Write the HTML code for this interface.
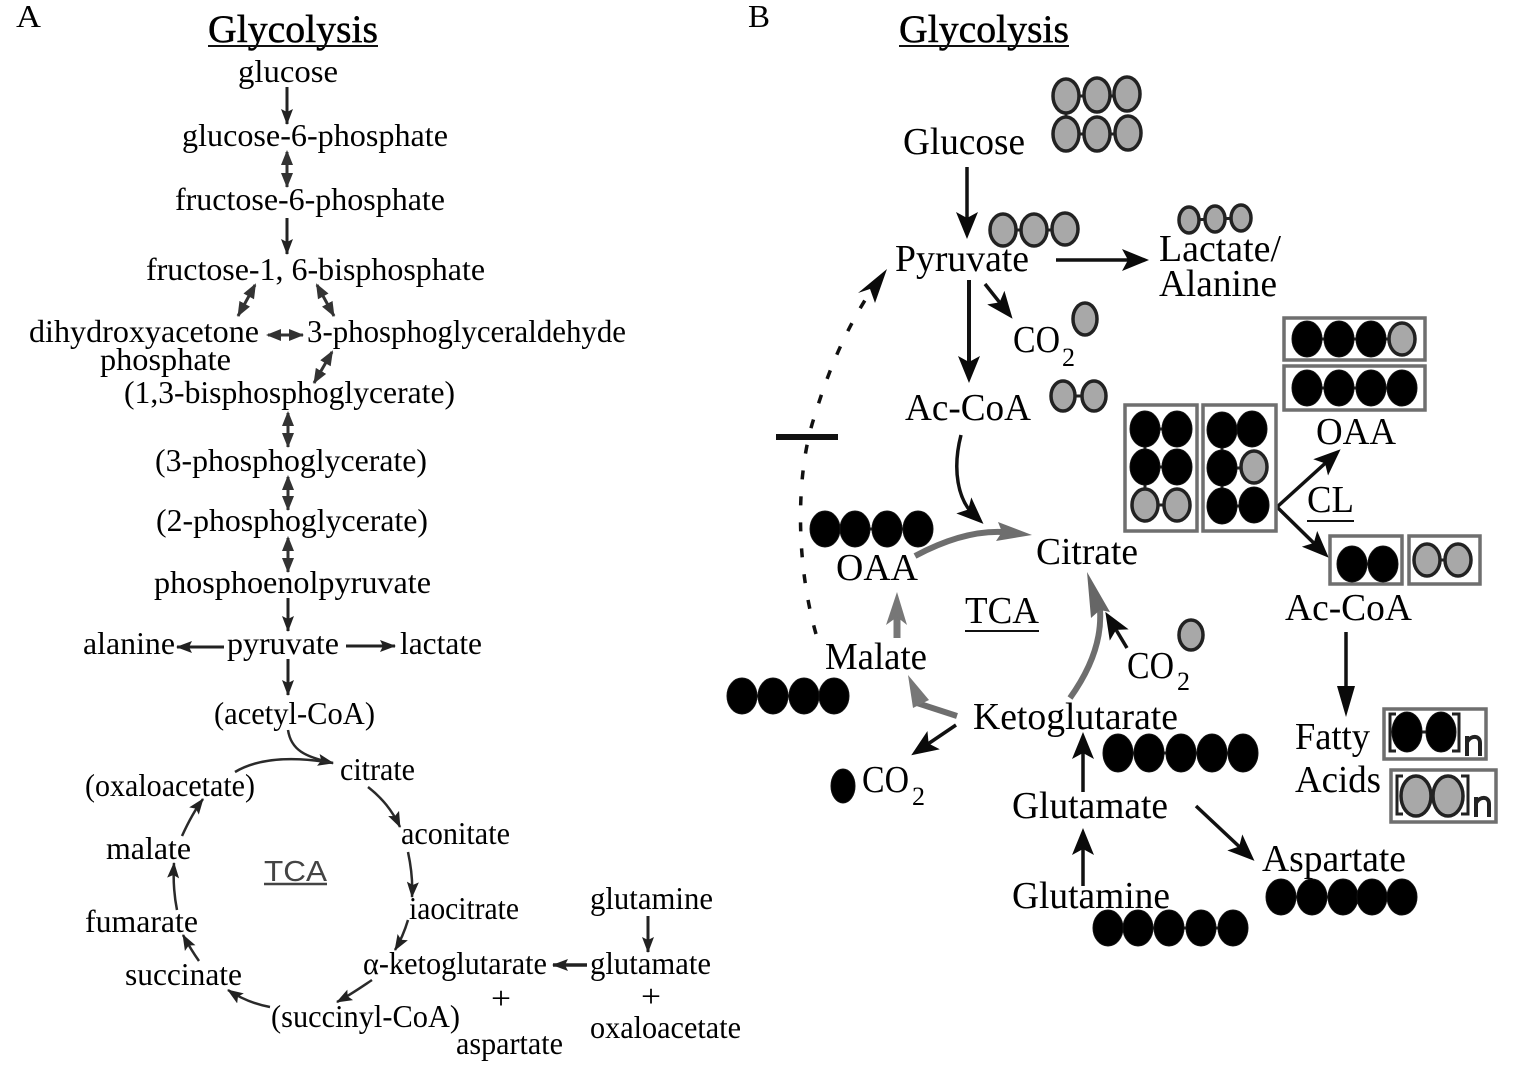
<!DOCTYPE html>
<html>
<head>
<meta charset="utf-8">
<style>
html,body{margin:0;padding:0;background:#fff;width:1519px;height:1075px;overflow:hidden}
svg{display:block}
text{font-family:"Liberation Serif",serif;fill:#000}
.a{font-size:32px;transform:translateY(1px)}
.b{font-size:38px}
.h{font-size:39px;stroke:#000;stroke-width:.5;transform:translateY(1px)}
.s{font-size:26px}
.l{stroke:#222;stroke-width:3;fill:none}
.d{stroke:#333;stroke-width:3;fill:none}
.t{stroke:#2a2a2a;stroke-width:2.5;fill:none}
.q{stroke:#111;stroke-width:3.5;fill:none}
.g{stroke:#6e6e6e;stroke-width:6;fill:none}
.k{fill:#000;stroke:#111;stroke-width:1}
.y{fill:#a8a8a8;stroke:#222;stroke-width:3.5}
.box{fill:none;stroke:#6f6f6f;stroke-width:3.5}
.link{stroke:#222;stroke-width:3;fill:none}
</style>
</head>
<body>
<svg width="1519" height="1075" viewBox="0 0 1519 1075" xmlns="http://www.w3.org/2000/svg">
<defs>
<marker id="m" markerUnits="userSpaceOnUse" markerWidth="18" markerHeight="14" refX="15" refY="7" orient="auto"><path d="M0 1L16 7L0 13L3 7Z" fill="#222"/></marker>
<marker id="e" markerUnits="userSpaceOnUse" markerWidth="16" markerHeight="14" refX="14" refY="7" orient="auto"><path d="M0 1L15 7L0 13Z" fill="#333"/></marker>
<marker id="es" markerUnits="userSpaceOnUse" markerWidth="16" markerHeight="14" refX="2" refY="7" orient="auto"><path d="M15 1L0 7L15 13Z" fill="#333"/></marker>
<marker id="mb" markerUnits="userSpaceOnUse" markerWidth="28" markerHeight="22" refX="14" refY="11" orient="auto"><path d="M0 0L27 11L0 22L6 11Z" fill="#0a0a0a"/></marker>
</defs>

<!-- Panel A text -->
<text class="a" x="16" y="26" textLength="25" lengthAdjust="spacingAndGlyphs">A</text>
<text class="h" x="208" y="41" textLength="170" lengthAdjust="spacingAndGlyphs">Glycolysis</text>
<line x1="208" y1="46" x2="378" y2="46" stroke="#111" stroke-width="2"/>
<text class="a" x="238" y="81" textLength="100" lengthAdjust="spacingAndGlyphs">glucose</text>
<text class="a" x="182" y="145" textLength="266" lengthAdjust="spacingAndGlyphs">glucose-6-phosphate</text>
<text class="a" x="175" y="209" textLength="270" lengthAdjust="spacingAndGlyphs">fructose-6-phosphate</text>
<text class="a" x="146" y="279" textLength="339" lengthAdjust="spacingAndGlyphs">fructose-1, 6-bisphosphate</text>
<text class="a" x="29" y="341" textLength="230" lengthAdjust="spacingAndGlyphs">dihydroxyacetone</text>
<text class="a" x="307" y="341" textLength="319" lengthAdjust="spacingAndGlyphs">3-phosphoglyceraldehyde</text>
<text class="a" x="100" y="369" textLength="131" lengthAdjust="spacingAndGlyphs">phosphate</text>
<text class="a" x="124" y="402" textLength="331" lengthAdjust="spacingAndGlyphs">(1,3-bisphosphoglycerate)</text>
<text class="a" x="155" y="470" textLength="272" lengthAdjust="spacingAndGlyphs">(3-phosphoglycerate)</text>
<text class="a" x="156" y="530" textLength="272" lengthAdjust="spacingAndGlyphs">(2-phosphoglycerate)</text>
<text class="a" x="154" y="592" textLength="277" lengthAdjust="spacingAndGlyphs">phosphoenolpyruvate</text>
<text class="a" x="83" y="653" textLength="92" lengthAdjust="spacingAndGlyphs">alanine</text>
<text class="a" x="227" y="653" textLength="112" lengthAdjust="spacingAndGlyphs">pyruvate</text>
<text class="a" x="400" y="653" textLength="82" lengthAdjust="spacingAndGlyphs">lactate</text>
<text class="a" x="214" y="723" textLength="161" lengthAdjust="spacingAndGlyphs">(acetyl-CoA)</text>
<text class="a" x="340" y="779" textLength="75" lengthAdjust="spacingAndGlyphs">citrate</text>
<text class="a" x="85" y="795" textLength="170" lengthAdjust="spacingAndGlyphs">(oxaloacetate)</text>
<text class="a" x="401" y="843" textLength="109" lengthAdjust="spacingAndGlyphs">aconitate</text>
<text class="a" x="106" y="858" textLength="85" lengthAdjust="spacingAndGlyphs">malate</text>
<text x="264" y="881" font-size="29" style="font-family:'Liberation Sans',sans-serif;fill:#444" textLength="63" lengthAdjust="spacingAndGlyphs">TCA</text>
<line x1="264" y1="884" x2="327" y2="884" stroke="#444" stroke-width="2.5"/>
<text class="a" x="409" y="918" textLength="110" lengthAdjust="spacingAndGlyphs">iaocitrate</text>
<text class="a" x="85" y="931" textLength="113" lengthAdjust="spacingAndGlyphs">fumarate</text>
<text class="a" x="590" y="908" textLength="123" lengthAdjust="spacingAndGlyphs">glutamine</text>
<text class="a" x="363" y="973" textLength="184" lengthAdjust="spacingAndGlyphs">α-ketoglutarate</text>
<text class="a" x="590" y="973" textLength="121" lengthAdjust="spacingAndGlyphs">glutamate</text>
<text class="a" x="125" y="984" textLength="117" lengthAdjust="spacingAndGlyphs">succinate</text>
<text class="a" x="491" y="1008" textLength="20" lengthAdjust="spacingAndGlyphs">+</text>
<text class="a" x="641" y="1006" textLength="20" lengthAdjust="spacingAndGlyphs">+</text>
<text class="a" x="271" y="1026" textLength="189" lengthAdjust="spacingAndGlyphs">(succinyl-CoA)</text>
<text class="a" x="590" y="1037" textLength="151" lengthAdjust="spacingAndGlyphs">oxaloacetate</text>
<text class="a" x="456" y="1053" textLength="107" lengthAdjust="spacingAndGlyphs">aspartate</text>

<!-- Panel A arrows -->
<line class="l" x1="287" y1="87" x2="287" y2="124" marker-end="url(#m)"/>
<line class="d" x1="287" y1="152" x2="287" y2="187" marker-start="url(#es)" marker-end="url(#e)"/>
<line class="l" x1="287" y1="218" x2="287" y2="254" marker-end="url(#m)"/>
<line class="d" x1="255" y1="285" x2="238" y2="316" marker-start="url(#es)" marker-end="url(#e)"/>
<line class="d" x1="317" y1="285" x2="334" y2="316" marker-start="url(#es)" marker-end="url(#e)"/>
<line class="d" x1="268" y1="335" x2="303" y2="335" marker-start="url(#es)" marker-end="url(#e)"/>
<line class="d" x1="332" y1="352" x2="314" y2="383" marker-start="url(#es)" marker-end="url(#e)"/>
<line class="d" x1="288" y1="413" x2="288" y2="447" marker-start="url(#es)" marker-end="url(#e)"/>
<line class="d" x1="288" y1="477" x2="288" y2="510" marker-start="url(#es)" marker-end="url(#e)"/>
<line class="d" x1="288" y1="538" x2="288" y2="572" marker-start="url(#es)" marker-end="url(#e)"/>
<line class="l" x1="288" y1="598" x2="288" y2="631" marker-end="url(#m)"/>
<line class="l" x1="224" y1="647" x2="177" y2="647" marker-end="url(#m)"/>
<line class="l" x1="346" y1="646" x2="395" y2="646" marker-end="url(#m)"/>
<line class="l" x1="288" y1="659" x2="288" y2="695" marker-end="url(#m)"/>
<path class="t" d="M288 730C291 750 305 757 333 763" marker-end="url(#m)"/>
<path class="t" d="M235 772C255 760 285 755 333 763"/>
<path class="t" d="M368 787C382 798 392 810 400 827" marker-end="url(#m)"/>
<path class="t" d="M408 852C411 866 413 880 412 897" marker-end="url(#m)"/>
<path class="t" d="M408 920C405 930 401 940 395 950" marker-end="url(#m)"/>
<path class="t" d="M372 980C360 988 350 995 337 1002" marker-end="url(#m)"/>
<path class="t" d="M270 1007C254 1004 240 998 228 990" marker-end="url(#m)"/>
<path class="t" d="M199 961C194 954 189 946 183 935" marker-end="url(#m)"/>
<path class="t" d="M177 910C174 895 173 880 174 863" marker-end="url(#m)"/>
<path class="t" d="M182 836C187 825 194 811 203 799" marker-end="url(#m)"/>
<line class="l" x1="648" y1="916" x2="648" y2="952" marker-end="url(#m)"/>
<line class="l" x1="587" y1="965" x2="553" y2="965" style="stroke-width:3.5" marker-end="url(#m)"/>

<!-- Panel B text -->
<text class="a" x="748" y="26" textLength="22" lengthAdjust="spacingAndGlyphs">B</text>
<text class="h" x="899" y="41" textLength="170" lengthAdjust="spacingAndGlyphs">Glycolysis</text>
<line x1="899" y1="46" x2="1069" y2="46" stroke="#111" stroke-width="2"/>
<text class="b" x="903" y="154" textLength="122" lengthAdjust="spacingAndGlyphs">Glucose</text>
<text class="b" x="895" y="271" textLength="134" lengthAdjust="spacingAndGlyphs">Pyruvate</text>
<text class="b" x="1159" y="261" textLength="122" lengthAdjust="spacingAndGlyphs">Lactate/</text>
<text class="b" x="1159" y="296" textLength="118" lengthAdjust="spacingAndGlyphs">Alanine</text>
<text class="b" x="1013" y="352" textLength="47" lengthAdjust="spacingAndGlyphs">CO</text>
<text class="s" x="1062" y="366">2</text>
<text class="b" x="905" y="420" textLength="126" lengthAdjust="spacingAndGlyphs">Ac-CoA</text>
<text class="b" x="1316" y="444" textLength="80" lengthAdjust="spacingAndGlyphs">OAA</text>
<text class="b" x="1307" y="512" textLength="47" lengthAdjust="spacingAndGlyphs">CL</text>
<line x1="1307" y1="521" x2="1354" y2="521" stroke="#111" stroke-width="2"/>
<text class="b" x="1036" y="564" textLength="102" lengthAdjust="spacingAndGlyphs">Citrate</text>
<text class="b" x="836" y="580" textLength="82" lengthAdjust="spacingAndGlyphs">OAA</text>
<text class="b" x="1285" y="620" textLength="127" lengthAdjust="spacingAndGlyphs">Ac-CoA</text>
<text class="b" x="965" y="623" textLength="74" lengthAdjust="spacingAndGlyphs">TCA</text>
<line x1="965" y1="631" x2="1039" y2="631" stroke="#111" stroke-width="2"/>
<text class="b" x="1127" y="678" textLength="47" lengthAdjust="spacingAndGlyphs">CO</text>
<text class="s" x="1177" y="690">2</text>
<text class="b" x="825" y="669" textLength="102" lengthAdjust="spacingAndGlyphs">Malate</text>
<text class="b" x="973" y="729" textLength="205" lengthAdjust="spacingAndGlyphs">Ketoglutarate</text>
<text class="b" x="1295" y="749" textLength="75" lengthAdjust="spacingAndGlyphs">Fatty</text>
<text class="b" x="1295" y="792" textLength="86" lengthAdjust="spacingAndGlyphs">Acids</text>
<text class="b" x="862" y="792" textLength="47" lengthAdjust="spacingAndGlyphs">CO</text>
<text class="s" x="912" y="805">2</text>
<text class="b" x="1012" y="818" textLength="156" lengthAdjust="spacingAndGlyphs">Glutamate</text>
<text class="b" x="1262" y="871" textLength="144" lengthAdjust="spacingAndGlyphs">Aspartate</text>
<text class="b" x="1012" y="908" textLength="158" lengthAdjust="spacingAndGlyphs">Glutamine</text>

<!-- Panel B connectors -->
<line class="q" x1="967" y1="167" x2="967" y2="226" marker-end="url(#mb)"/>
<line class="q" x1="1056" y1="260" x2="1136" y2="260" marker-end="url(#mb)"/>
<line class="q" x1="969" y1="280" x2="969" y2="370" style="stroke-width:4" marker-end="url(#mb)"/>
<line class="q" x1="985" y1="284" x2="1004.5" y2="308.6" marker-end="url(#mb)"/>
<path class="q" d="M961 435C952 470 958 500 974 515" marker-end="url(#mb)"/>
<path d="M816 634C795 560 796 470 815 415C830 365 850 320 879 279" stroke="#111" stroke-width="3.5" fill="none" stroke-dasharray="9 17"/>
<path d="M887 269L875 303L870 289L858 293Z" fill="#0a0a0a"/>
<line x1="776" y1="437" x2="838" y2="437" stroke="#111" stroke-width="6"/>

<path class="g" d="M915 556C945 540 975 531 1002 532"/>
<polygon points="1032,535 998,522 1002,532 996,541" fill="#6e6e6e"/>
<line x1="897" y1="638" x2="897" y2="616" stroke="#777" stroke-width="7"/>
<polygon points="897,592 886,625 897,617 907,625" fill="#777"/>
<path class="g" d="M957 716L917 703"/>
<polygon points="908,675 913,708 929,700" fill="#777"/>
<path class="g" d="M1070 698C1090 670 1102 640 1100 610"/>
<polygon points="1087,572 1091,618 1100,610 1110,612" fill="#666"/>

<line class="q" x1="1127" y1="648" x2="1112" y2="623" marker-end="url(#mb)"/>
<line class="q" x1="956" y1="725" x2="922" y2="748" marker-end="url(#mb)"/>
<line class="q" x1="1083" y1="792" x2="1083" y2="745" marker-end="url(#mb)"/>
<line class="q" x1="1083" y1="886" x2="1083" y2="841" marker-end="url(#mb)"/>
<line class="q" x1="1196" y1="806" x2="1245" y2="852" marker-end="url(#mb)"/>
<line class="q" x1="1277" y1="507" x2="1331" y2="458" marker-end="url(#mb)"/>
<line class="q" x1="1277" y1="507" x2="1319.5" y2="548.6" marker-end="url(#mb)"/>
<line class="q" x1="1346" y1="632" x2="1346" y2="690"/>
<polygon points="1346,717 1337,686 1355,686" fill="#0a0a0a"/>

<!-- Links -->
<g class="link">
<path d="M1066 96H1127M1066 134H1128M1066 96V134"/>
<path d="M1003 230H1065"/>
<path d="M1189 220L1241 218"/>
<path d="M1063 396H1094"/>
<path d="M825 529H918M742 696H834"/>
<path d="M1118 753H1243M1108 928H1233M1281 897H1402"/>
<path d="M1307 339H1402M1307 388H1402"/>
<path d="M1145 429H1177M1145 467H1177M1145 505H1177M1145 429V505"/>
<path d="M1222 430H1252M1222 468H1254M1222 506H1254M1222 430V506"/>
<path d="M1352 564H1383M1427 560H1458"/>
<path d="M1407 732H1441M1416 796H1448"/>
</g>

<!-- Gray atoms -->
<g class="y">
<ellipse cx="1066" cy="96" rx="13" ry="17"/><ellipse cx="1097" cy="95" rx="13" ry="17"/><ellipse cx="1127" cy="94" rx="13" ry="17"/>
<ellipse cx="1066" cy="134" rx="13" ry="17"/><ellipse cx="1097" cy="134" rx="13" ry="17"/><ellipse cx="1128" cy="133" rx="13" ry="17"/>
<ellipse cx="1003" cy="230" rx="13" ry="16"/><ellipse cx="1034" cy="230" rx="13" ry="16"/><ellipse cx="1065" cy="229" rx="13" ry="16"/>
<ellipse cx="1189" cy="220" rx="10" ry="13"/><ellipse cx="1215" cy="219" rx="10" ry="13"/><ellipse cx="1241" cy="218" rx="10" ry="13"/>
<ellipse cx="1085" cy="319" rx="12" ry="16"/>
<ellipse cx="1063" cy="396" rx="12" ry="15"/><ellipse cx="1094" cy="396" rx="12" ry="15"/>
<ellipse cx="1191" cy="635" rx="12" ry="15"/>
</g>

<!-- Black atoms -->
<g class="k">
<ellipse cx="825" cy="529" rx="15" ry="18"/><ellipse cx="855" cy="529" rx="15" ry="18"/><ellipse cx="887" cy="529" rx="15" ry="18"/><ellipse cx="918" cy="529" rx="15" ry="18"/>
<ellipse cx="742" cy="696" rx="15" ry="18"/><ellipse cx="773" cy="696" rx="15" ry="18"/><ellipse cx="804" cy="696" rx="15" ry="18"/><ellipse cx="834" cy="696" rx="15" ry="18"/>
<ellipse cx="843" cy="786" rx="12" ry="17"/>
<ellipse cx="1118" cy="753" rx="15" ry="19"/><ellipse cx="1149" cy="753" rx="15" ry="19"/><ellipse cx="1181" cy="753" rx="15" ry="19"/><ellipse cx="1212" cy="753" rx="15" ry="19"/><ellipse cx="1243" cy="753" rx="15" ry="19"/>
<ellipse cx="1108" cy="928" rx="15" ry="18"/><ellipse cx="1138" cy="928" rx="15" ry="18"/><ellipse cx="1169" cy="928" rx="15" ry="18"/><ellipse cx="1201" cy="928" rx="15" ry="18"/><ellipse cx="1233" cy="928" rx="15" ry="18"/>
<ellipse cx="1281" cy="897" rx="15" ry="18"/><ellipse cx="1312" cy="897" rx="15" ry="18"/><ellipse cx="1343" cy="897" rx="15" ry="18"/><ellipse cx="1372" cy="897" rx="15" ry="18"/><ellipse cx="1402" cy="897" rx="15" ry="18"/>
</g>

<!-- Boxed atoms -->
<rect class="box" x="1284" y="318" width="141" height="42"/>
<rect class="box" x="1284" y="366" width="141" height="44"/>
<g class="k">
<ellipse cx="1307" cy="339" rx="15" ry="18"/><ellipse cx="1339" cy="339" rx="15" ry="18"/><ellipse cx="1371" cy="339" rx="15" ry="18"/>
<ellipse cx="1307" cy="388" rx="15" ry="18"/><ellipse cx="1339" cy="388" rx="15" ry="18"/><ellipse cx="1371" cy="388" rx="15" ry="18"/><ellipse cx="1402" cy="388" rx="15" ry="18"/>
</g>
<ellipse class="y" cx="1402" cy="339" rx="13" ry="16"/>

<rect class="box" x="1125" y="405" width="72" height="126"/>
<rect class="box" x="1203" y="405" width="73" height="126"/>
<g class="k">
<ellipse cx="1145" cy="429" rx="15" ry="18"/><ellipse cx="1177" cy="429" rx="15" ry="18"/>
<ellipse cx="1145" cy="467" rx="15" ry="18"/><ellipse cx="1177" cy="467" rx="15" ry="18"/>
<ellipse cx="1222" cy="430" rx="15" ry="18"/><ellipse cx="1252" cy="429" rx="15" ry="18"/>
<ellipse cx="1222" cy="468" rx="15" ry="18"/>
<ellipse cx="1222" cy="506" rx="15" ry="18"/><ellipse cx="1254" cy="505" rx="15" ry="18"/>
</g>
<g class="y">
<ellipse cx="1145" cy="505" rx="13" ry="16"/><ellipse cx="1177" cy="505" rx="13" ry="16"/>
<ellipse cx="1254" cy="467" rx="13" ry="16"/>
</g>

<rect class="box" x="1330" y="536" width="72" height="48"/>
<rect class="box" x="1409" y="536" width="71" height="48"/>
<g class="k"><ellipse cx="1352" cy="564" rx="15" ry="18"/><ellipse cx="1383" cy="564" rx="15" ry="18"/></g>
<g class="y"><ellipse cx="1427" cy="560" rx="13" ry="16"/><ellipse cx="1458" cy="560" rx="13" ry="16"/></g>

<rect class="box" x="1384" y="709" width="102" height="50"/>
<rect class="box" x="1391" y="770" width="105" height="52"/>
<g class="k"><ellipse cx="1407" cy="732" rx="15" ry="20"/><ellipse cx="1441" cy="732" rx="15" ry="20"/></g>
<g class="y"><ellipse cx="1416" cy="796" rx="15" ry="20"/><ellipse cx="1448" cy="796" rx="15" ry="20"/></g>
<g fill="none" stroke="#222" stroke-width="3">
<path d="M1396 714h-6v37h6M1452 714h7v37h-7"/>
<path d="M1403 776h-6v38h6M1461 776h7v38h-7"/>
</g>
<g fill="none" stroke="#222" stroke-width="4">
<path d="M1467 756v-20M1467 742c4-7 13-7 13 1v13"/>
<path d="M1476 817v-20M1476 803c4-7 13-7 13 1v13"/>
</g>
</svg>
</body>
</html>
